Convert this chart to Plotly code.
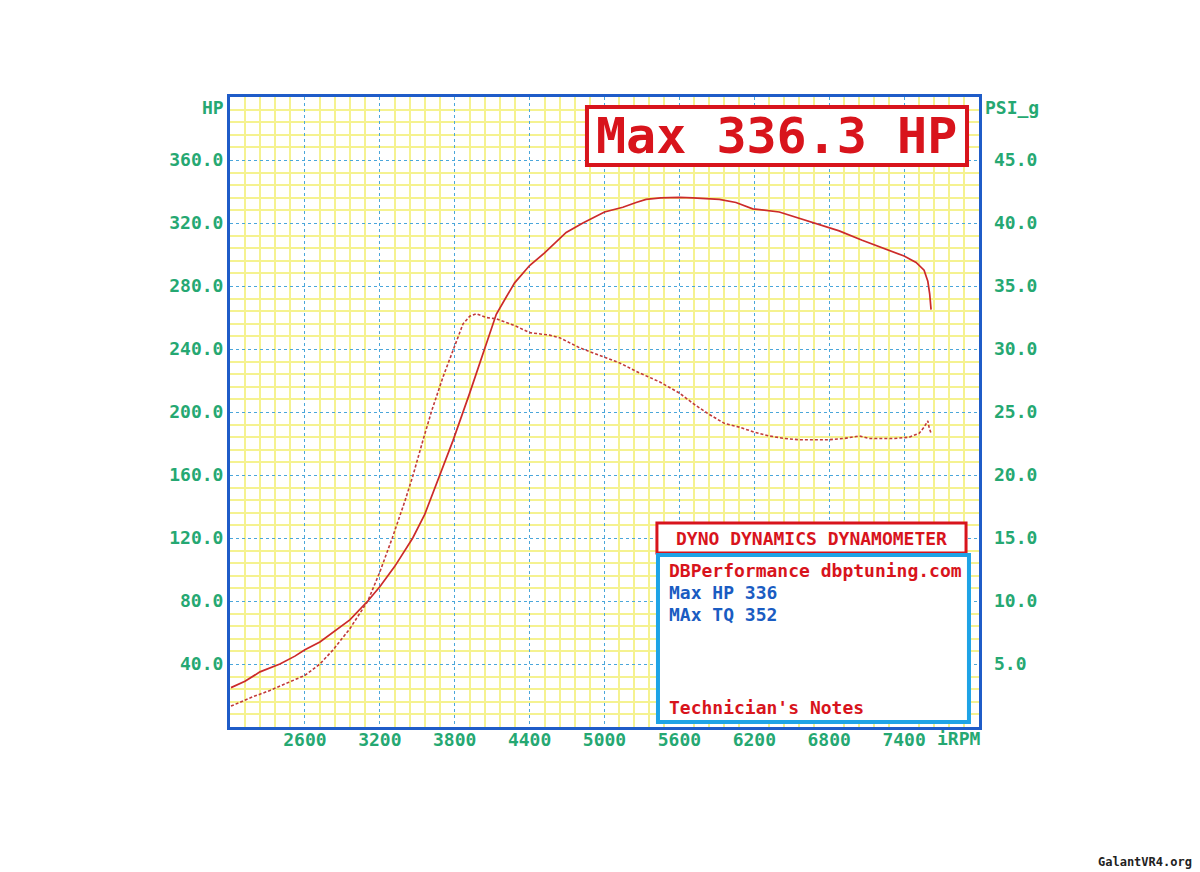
import plotly.graph_objects as go

# ---- data read from the dyno sheet ----
hp_rpm = [2008, 2120, 2240, 2400, 2520, 2600, 2720, 2840, 2960, 3104, 3200, 3320, 3464, 3560,
          3680, 3787, 3920, 4040, 4133, 4213, 4280, 4400, 4520, 4693, 4827, 5000, 5147, 5253,
          5333, 5450, 5600, 5707, 5800, 5920, 6053, 6187, 6400, 6560, 6720, 6880, 7064, 7200,
          7304, 7400, 7496, 7560, 7590, 7605, 7616]
hp_val = [25, 29, 35, 40, 45, 49, 54, 61, 68, 80, 89, 102, 120, 135,
          160, 182, 212, 240, 262, 273, 282, 293, 301, 314, 320, 327, 330, 333,
          335, 336, 336.3, 336, 335.5, 335, 333, 329, 327, 323, 319, 315, 309, 305,
          302, 299, 295, 290, 283, 275, 265]

boost_rpm = [2008, 2184, 2320, 2456, 2600, 2720, 2824, 2960, 3104, 3200, 3300, 3400, 3464, 3547,
             3616, 3707, 3787, 3867, 3920, 3973, 4053, 4133, 4293, 4400, 4560, 4640, 4800, 4960,
             5120, 5280, 5440, 5600, 5720, 5840, 5960, 6080, 6200, 6320, 6440, 6560, 6800, 6920,
             7040, 7120, 7200, 7320, 7440, 7520, 7560, 7590, 7600, 7616]
boost_psi = [1.66, 2.4, 2.9, 3.5, 4.1, 5.0, 6.1, 7.8, 10.0, 12.3, 15.0, 17.9, 19.9, 22.8,
             25.1, 27.8, 29.9, 32.0, 32.6, 32.8, 32.5, 32.4, 31.8, 31.3, 31.1, 30.9, 30.1, 29.5,
             28.9, 28.1, 27.4, 26.5, 25.6, 24.8, 24.1, 23.8, 23.4, 23.1, 22.9, 22.8, 22.8, 22.9,
             23.1, 22.9, 22.9, 22.9, 23.0, 23.3, 23.8, 24.3, 23.8, 23.3]

# axis extents and tick spacing (major labelled ticks, 5 minor divisions each)
rpm_range = [2000, 8000]
rpm_step = 600
hp_range = [0, 400]
hp_step = 40
psi_range = [0, 50]
psi_step = 5

title_text = "Max 336.3 HP"
dyno_text = "DYNO DYNAMICS DYNAMOMETER"
shop_text = "DBPerformance dbptuning.com"
note_lines = ["Max HP 336", "MAx TQ 352"]
tech_text = "Technician's Notes"
watermark = "GalantVR4.org"

# ---- styling ----
FONT = "DejaVu Sans Mono"
GREEN = "#25a872"
RED = "#d8141c"
CURVE = "#cc2a2a"
BORDER = "#1f5cc8"
MAJOR = "#4aa6da"
MINOR = "#f5f290"
LIGHTBLUE = "#1ea3e6"
NOTEBLUE = "#1a5cc2"

def hide_ends(r, fmt):
    # the reference leaves the ticks on the frame edges unlabelled
    return {format(r[0], fmt): " ", format(r[1], fmt): " "}

fig = go.Figure()
fig.add_trace(go.Scatter(x=hp_rpm, y=hp_val, mode="lines", name="HP",
                         line=dict(color=CURVE, width=1.7), yaxis="y"))
fig.add_trace(go.Scatter(x=boost_rpm, y=boost_psi, mode="lines", name="PSI_g",
                         line=dict(color="#c23a3a", width=1.6, dash="3px,2px"), yaxis="y2"))

axis_font = dict(family=FONT, size=18, color=GREEN, weight="bold")

# the page body has an 8px default margin, so the figure is 8px smaller
fig.update_layout(
    width=1192, height=864,
    margin=dict(l=222, r=221, t=89, b=145),
    paper_bgcolor="white", plot_bgcolor="white",
    showlegend=False,
    xaxis=dict(range=rpm_range, tickmode="linear", tick0=rpm_range[0],
               dtick=rpm_step, tickformat="d", tickfont=axis_font,
               labelalias=hide_ends(rpm_range, "d"),
               showgrid=True, gridcolor=MAJOR, gridwidth=1, griddash="dot",
               minor=dict(tickmode="linear", tick0=rpm_range[0], dtick=rpm_step / 5,
                          showgrid=True, gridcolor=MINOR, gridwidth=2, griddash="solid"),
               showline=True, mirror=True, linecolor=BORDER, linewidth=3,
               ticks="", zeroline=False, ticklabelstandoff=-6),
    yaxis=dict(range=hp_range, tickmode="linear", tick0=hp_range[0],
               dtick=hp_step, tickformat=".1f", tickfont=axis_font,
               labelalias=hide_ends(hp_range, ".1f"),
               showgrid=True, gridcolor=MAJOR, gridwidth=1, griddash="dot",
               minor=dict(tickmode="linear", tick0=hp_range[0], dtick=hp_step / 5,
                          showgrid=True, gridcolor=MINOR, gridwidth=2, griddash="solid"),
               showline=True, mirror=True, linecolor=BORDER, linewidth=3,
               ticks="", zeroline=False, ticklabelstandoff=0),
    yaxis2=dict(range=psi_range, overlaying="y", side="right",
                tickmode="linear", tick0=psi_range[0], dtick=psi_step, tickformat=".1f",
                labelalias=hide_ends(psi_range, ".1f"),
                tickfont=axis_font, showgrid=False, zeroline=False, ticks="",
                showline=False, ticklabelstandoff=14),
)

shapes = [
    dict(type="rect", xref="paper", yref="paper", x0=0.4766, x1=0.984, y0=0.892, y1=0.984,
         fillcolor="white", line=dict(color=RED, width=4), layer="above"),
    dict(type="rect", xref="paper", yref="paper", x0=0.570, x1=0.9827, y0=0.276, y1=0.3238,
         fillcolor="white", line=dict(color=RED, width=3), layer="above"),
    dict(type="rect", xref="paper", yref="paper", x0=0.5714, x1=0.9866, y0=0.008, y1=0.273,
         fillcolor="white", line=dict(color=LIGHTBLUE, width=4), layer="above"),
]
fig.update_layout(shapes=shapes)

def ann(text, x, y, size, color, xanchor="left", yanchor="middle"):
    fig.add_annotation(text=text, x=x, y=y, xref="paper", yref="paper", showarrow=False,
                       xanchor=xanchor, yanchor=yanchor,
                       font=dict(family=FONT, size=size, color=color))

ann(f"<b>{title_text}</b>", 0.730, 0.938, 50, RED, xanchor="center")
ann(f"<b>{dyno_text}</b>", 0.776, 0.300, 18, RED, xanchor="center")
ann(f"<b>{shop_text}</b>", 0.5834, 0.249, 18, RED)
ann(f"<b>{note_lines[0]}</b>", 0.5834, 0.2127, 18, NOTEBLUE)
ann(f"<b>{note_lines[1]}</b>", 0.5834, 0.1778, 18, NOTEBLUE)
ann(f"<b>{tech_text}</b>", 0.5834, 0.0317, 18, RED)
ann("<b>HP</b>", -0.005, 0.984, 18, GREEN, xanchor="right")
ann("<b>PSI_g</b>", 1.0053, 0.984, 18, GREEN)
ann("<b>iRPM</b>", 0.941, -0.019, 18, GREEN)
ann(f"<b>{watermark}</b>", 1.287, -0.214, 12, "#222222", xanchor="right")

fig.write_html("out.html")
